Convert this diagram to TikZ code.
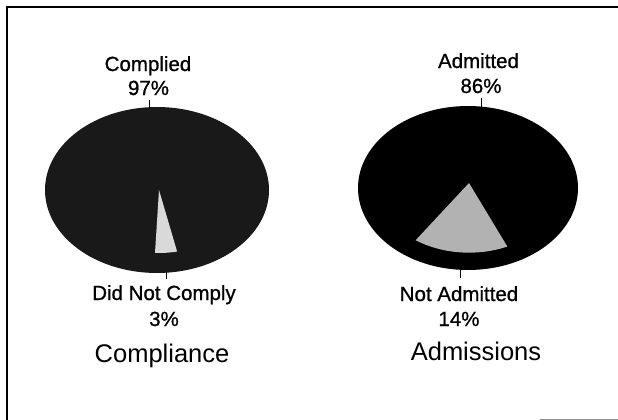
\documentclass[tikz,border=0pt]{standalone}
\usepackage{fontspec}
\setmainfont{Liberation Sans}
\newfontfamily\lblfont[FakeBold=0.9]{Liberation Sans}
\begin{document}
\begin{tikzpicture}[x=1pt,y=-1pt,
  lbl/.style={anchor=base,inner sep=0pt,font=\lblfont\fontsize{20.5}{24}\selectfont},
  ttl/.style={anchor=base,inner sep=0pt,font=\fontsize{25.5}{30}\selectfont},
  tick/.style={line width=0.9pt},
  frame/.style={line width=1.4pt},
  pieA/.style={fill=black!90},
  pieB/.style={fill=black},
  wedgeA/.style={fill=black!15},
  wedgeB/.style={fill=black!30}]
\useasboundingbox (0,0) rectangle (618,420);
% frame
\coordinate (f1) at (7,420);
\coordinate (f2) at (7,7);
\coordinate (f3) at (618,7);
\draw[frame] (f1) -- (f2) -- (f3);
\coordinate (g1) at (540,419);
\coordinate (g2) at (618,419);
\draw[line width=1pt,black!45] (g1) -- (g2);
% left pie
\coordinate (cA) at (157,190);
\fill[pieA] (cA) ellipse[x radius=112, y radius=83];
\coordinate (tA) at (159,190);
\fill[wedgeA] (tA) -- ++({85*cos(92.7)},{63*sin(92.7)}) arc[start angle=92.7, end angle=77.7, x radius=85, y radius=63] -- cycle;
% right pie
\coordinate (cB) at (468,188);
\fill[pieB] (cB) ellipse[x radius=110, y radius=82];
\coordinate (tB) at (469,183);
\fill[wedgeB] (tB) -- ++({93.5*cos(124.8)},{69.7*sin(124.8)}) arc[start angle=124.8, end angle=65.8, x radius=93.5, y radius=69.7] -- cycle;
% labels left
\node[lbl] (complied) at (148,71) {Complied};
\node[lbl] (p97) at (148.5,95) {97\%};
\coordinate (k1a) at (149,100);
\coordinate (k1b) at (149,108);
\draw[tick] (k1a) -- (k1b);
\coordinate (k2a) at (166,272);
\coordinate (k2b) at (166,279);
\draw[tick] (k2a) -- (k2b);
\node[lbl] (dnc) at (164,300) {Did Not Comply};
\node[lbl] (p3) at (164,326) {3\%};
\node[ttl] (compliance) at (162,362) {Compliance};
% labels right
\node[lbl] (admitted) at (478.5,68) {Admitted};
\node[lbl] (p86) at (481,93) {86\%};
\coordinate (k3a) at (481,98);
\coordinate (k3b) at (481,107);
\draw[tick] (k3a) -- (k3b);
\coordinate (k4a) at (460,269);
\coordinate (k4b) at (460,278);
\draw[tick] (k4a) -- (k4b);
\node[lbl] (na) at (459,301) {Not Admitted};
\node[lbl] (p14) at (459,326) {14\%};
\node[ttl] (admissions) at (476,360) {Admissions};
\end{tikzpicture}
\end{document}
